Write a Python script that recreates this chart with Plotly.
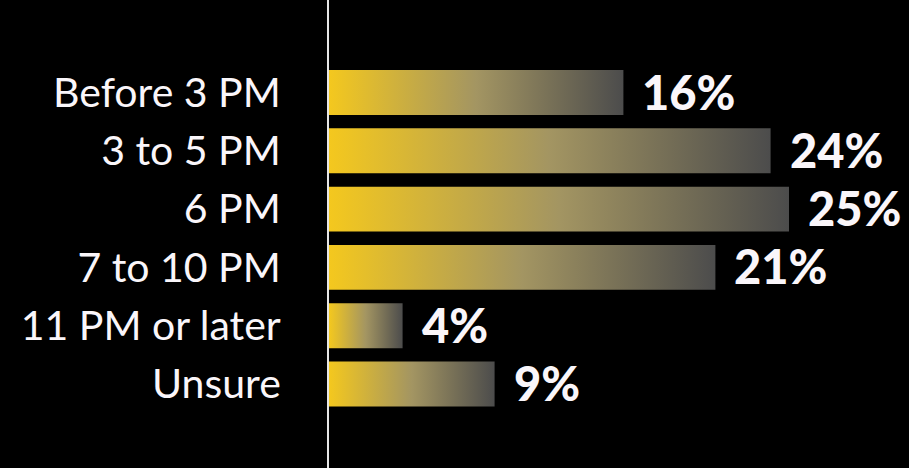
import plotly.graph_objects as go

# Survey: preferred time of day
categories = ["Before 3 PM", "3 to 5 PM", "6 PM", "7 to 10 PM", "11 PM or later", "Unsure"]
shares = [16, 24, 25, 21, 4, 9]
value_labels = ["16%", "24%", "25%", "21%", "4%", "9%"]

BAR_HALF = 0.385
GRADIENT = [[0.0, "#F4C81E"], [0.5, "#A39562"], [1.0, "#4C4C4C"]]

fig = go.Figure()

for i, (cat, v) in enumerate(zip(categories, shares)):
    # each bar is a filled rectangle so it can carry a left-to-right gradient
    fig.add_trace(go.Scatter(
        x=[0, v, v, 0, 0],
        y=[i - BAR_HALF, i - BAR_HALF, i + BAR_HALF, i + BAR_HALF, i - BAR_HALF],
        mode="lines",
        fill="toself",
        fillgradient=dict(type="horizontal", colorscale=GRADIENT),
        line=dict(width=0),
        hoverinfo="skip",
        showlegend=False,
        name=cat,
    ))
    fig.add_annotation(
        x=v, y=i, text=value_labels[i], showarrow=False,
        xanchor="left", yanchor="middle", xshift=17, yshift=1,
        font=dict(family="Lato", size=47, color="#FAF6FA", weight=900),
    )

fig.update_layout(
    width=909, height=468,
    margin=dict(l=329, r=0, t=0, b=0),
    paper_bgcolor="#000000",
    plot_bgcolor="#000000",
    xaxis=dict(range=[0, 580 / 18.4], visible=False, fixedrange=True),
    yaxis=dict(
        range=[6.441, -1.587],
        tickmode="array",
        tickvals=list(range(len(categories))),
        ticktext=categories,
        ticks="outside", ticklen=38, tickcolor="rgba(0,0,0,0)",
        tickfont=dict(family="Lato", size=41, color="#FAF6FA"),
        showgrid=False, zeroline=False,
        showline=True, linecolor="#E6E6E6", linewidth=2,
        fixedrange=True,
    ),
)

fig.write_html("out.html")
